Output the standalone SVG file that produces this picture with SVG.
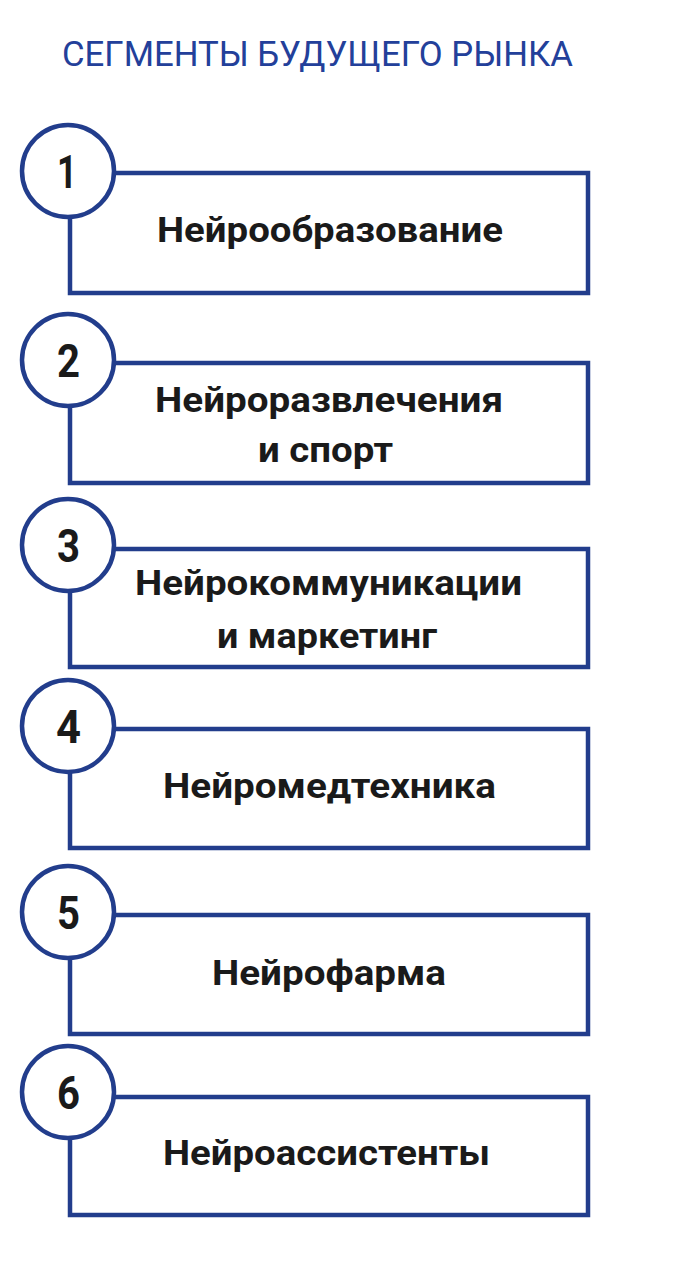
<svg xmlns="http://www.w3.org/2000/svg" width="675" height="1280" viewBox="0 0 675 1280">
<style>
  .box{fill:none;stroke:#223d8c;stroke-width:4.5}
  .num{fill:#fff;stroke:#223d8c;stroke-width:4.5}
  .title{font-family:Roboto,"Liberation Sans",sans-serif;font-size:35px;fill:#23409a}
  .lbl{font-family:Roboto,"Liberation Sans",sans-serif;font-weight:bold;font-size:35px;fill:#1a1a1a;text-anchor:start}
  .dig{font-family:Roboto,"Liberation Sans",sans-serif;font-weight:bold;font-size:47px;fill:#1a1a1a}
</style>
<rect width="675" height="1280" fill="#fff"/>
<text class="title" x="62" y="66" textLength="511" lengthAdjust="spacingAndGlyphs">СЕГМЕНТЫ БУДУЩЕГО РЫНКА</text>

<g id="connectors"></g>

<g id="node1">
  <rect class="box" x="70" y="173" width="518" height="120"/>
  <circle class="num" cx="68" cy="171" r="46"/>
  <text class="dig" x="57" y="188" textLength="20" lengthAdjust="spacingAndGlyphs">1</text>
  <text class="lbl" x="157" y="242" textLength="346" lengthAdjust="spacingAndGlyphs">Нейрообразование</text>
</g>
<g id="node2">
  <rect class="box" x="70" y="363" width="518" height="120"/>
  <circle class="num" cx="68" cy="360" r="46"/>
  <text class="dig" x="57" y="377" textLength="23" lengthAdjust="spacingAndGlyphs">2</text>
  <text class="lbl" x="155" y="412" textLength="348" lengthAdjust="spacingAndGlyphs">Нейроразвлечения</text>
  <text class="lbl" x="258" y="462" textLength="135" lengthAdjust="spacingAndGlyphs">и спорт</text>
</g>
<g id="node3">
  <rect class="box" x="70" y="549" width="518" height="118"/>
  <circle class="num" cx="68" cy="545" r="46"/>
  <text class="dig" x="57" y="562" textLength="23" lengthAdjust="spacingAndGlyphs">3</text>
  <text class="lbl" x="135" y="595" textLength="387" lengthAdjust="spacingAndGlyphs">Нейрокоммуникации</text>
  <text class="lbl" x="217" y="648" textLength="220" lengthAdjust="spacingAndGlyphs">и маркетинг</text>
</g>
<g id="node4">
  <rect class="box" x="70" y="729" width="518" height="119"/>
  <circle class="num" cx="68" cy="726" r="46"/>
  <text class="dig" x="56" y="743" textLength="25" lengthAdjust="spacingAndGlyphs">4</text>
  <text class="lbl" x="163" y="798" textLength="333" lengthAdjust="spacingAndGlyphs">Нейромедтехника</text>
</g>
<g id="node5">
  <rect class="box" x="70" y="915" width="518" height="119"/>
  <circle class="num" cx="68" cy="912" r="46"/>
  <text class="dig" x="57" y="929" textLength="23" lengthAdjust="spacingAndGlyphs">5</text>
  <text class="lbl" x="212" y="985" textLength="234" lengthAdjust="spacingAndGlyphs">Нейрофарма</text>
</g>
<g id="node6">
  <rect class="box" x="70" y="1097" width="518" height="118"/>
  <circle class="num" cx="68" cy="1092" r="46"/>
  <text class="dig" x="57" y="1109" textLength="23" lengthAdjust="spacingAndGlyphs">6</text>
  <text class="lbl" x="163" y="1165" textLength="327" lengthAdjust="spacingAndGlyphs">Нейроассистенты</text>
</g>
</svg>
